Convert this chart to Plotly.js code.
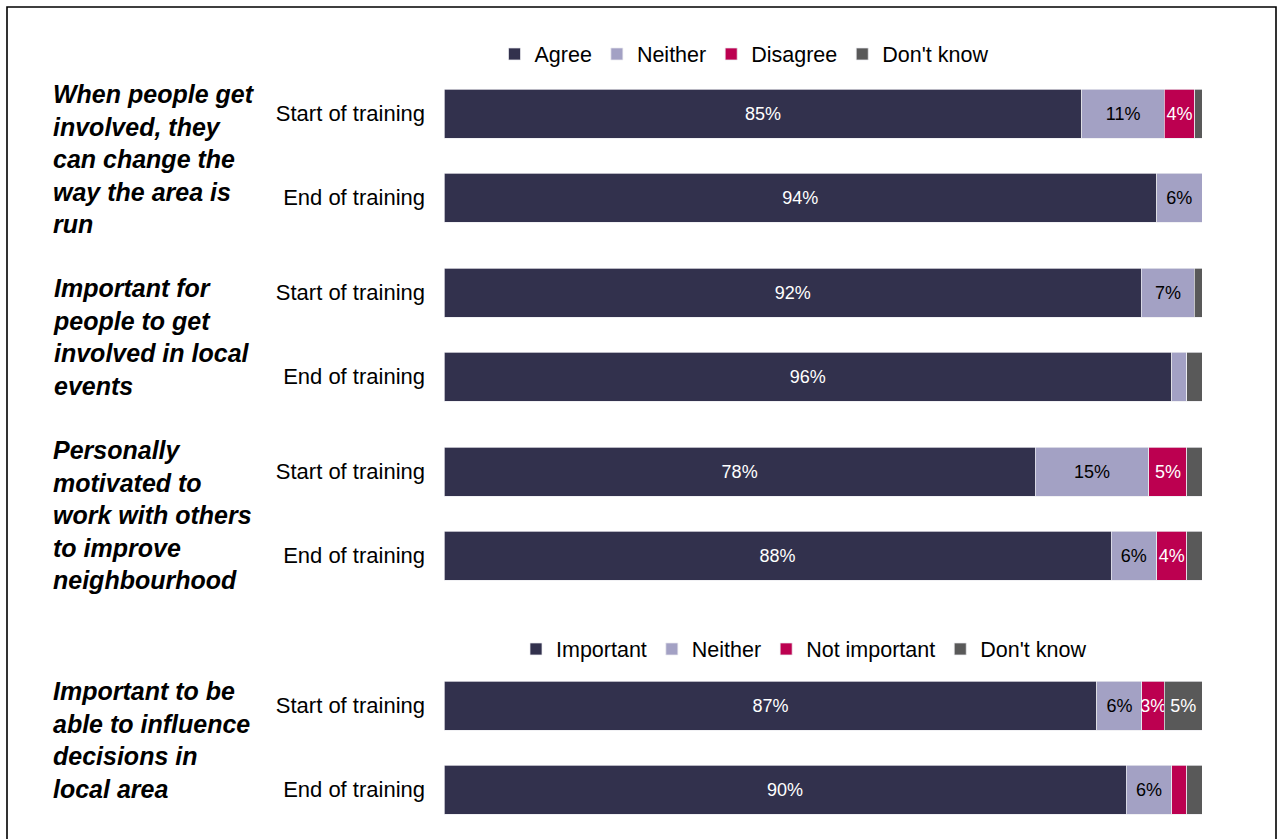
<!DOCTYPE html>
<html>
<head>
<meta charset="utf-8">
<script src="https://cdn.plot.ly/plotly-3.0.1.min.js"></script>
<style>
html,body{margin:0;padding:0;background:#fff;}
#chart{width:1278px;height:839px;}
</style>
</head>
<body>
<div id="chart"></div>
<script>
// ---- data ----
const questions = [
  "When people get<br>involved, they<br>can change the<br>way the area is<br>run",
  "Important for<br>people to get<br>involved in local<br>events",
  "Personally<br>motivated to<br>work with others<br>to improve<br>neighbourhood",
  "Important to be<br>able to influence<br>decisions in<br>local area"
];
const rowLabels = ["Start of training", "End of training"];
const seriesNamesAgree = ["Agree", "Neither", "Disagree", "Don't know"];
const seriesNamesImportant = ["Important", "Neither", "Not important", "Don't know"];
// 8 rows: Q1 start, Q1 end, Q2 start, Q2 end, Q3 start, Q3 end, Q4 start, Q4 end
const positive = [85, 94, 92, 96, 78, 88, 87, 90];
const neither  = [11,  6,  7,  2, 15,  6,  6,  6];
const negative = [ 4,  0,  0,  0,  5,  4,  3,  2];
const dontKnow = [ 1,  0,  1,  2,  2,  2,  5,  2];

// ---- styling ----
const FONT = "Liberation Sans, Arial, sans-serif";
const barColors = ["#32314d", "#a3a1c4", "#bc0050", "#595959"];
const textColors = ["#ffffff", "#000000", "#ffffff", "#ffffff"];
const W = 1278, H = 839, L = 444, R = 76;
const plotW = W - L - R;
// pixel rows (top, bottom) of each question's panel
const panelsPx = [[71.5, 239.5], [250.5, 418.5], [429.5, 597.5], [663.5, 831.5]];
const questionCenterPx = [159, 337.5, 514.5, 740];
const px2y = p => (H - p) / H;
const px2x = p => (p - L) / plotW;

const allSeries = [positive, neither, negative, dontKnow];
const traces = [];
const legendBase = {
  orientation: "h", traceorder: "normal", xanchor: "center", yanchor: "middle",
  itemwidth: 30, tracegroupgap: 0,
  font: {family: FONT, size: 21.5, color: "#000"}, itemclick: false, itemdoubleclick: false
};
const layout = {
  width: W, height: H,
  margin: {l: L, r: R, t: 0, b: 0, pad: 0},
  paper_bgcolor: "#ffffff", plot_bgcolor: "#ffffff",
  barmode: "stack", barnorm: "percent", bargap: 0.4167,
  font: {family: FONT, color: "#000000"},
  showlegend: true,
  legend: Object.assign({}, legendBase, {x: px2x(744), y: px2y(54)}),
  legend2: Object.assign({}, legendBase, {x: px2x(804), y: px2y(649)}),
  annotations: [],
  shapes: [{
    type: "rect", xref: "paper", yref: "paper",
    x0: px2x(7), x1: px2x(1276), y0: px2y(845), y1: px2y(7),
    line: {color: "#000000", width: 1.6}, fillcolor: "rgba(0,0,0,0)", layer: "above"
  }]
};

questions.forEach((q, qi) => {
  const sfx = qi === 0 ? "" : String(qi + 1);
  const names = qi === 3 ? seriesNamesImportant : seriesNamesAgree;
  allSeries.forEach((series, si) => {
    const vals = series.slice(qi * 2, qi * 2 + 2);
    traces.push({
      type: "bar", orientation: "h",
      name: names[si],
      y: rowLabels, x: vals,
      xaxis: "x" + sfx, yaxis: "y" + sfx,
      marker: {color: barColors[si], line: {color: "rgba(235,235,240,0.9)", width: 0.8}},
      text: vals.map(v => v >= 3 ? v + "%" : ""),
      texttemplate: "%{text}",
      textposition: "inside", insidetextanchor: "middle", textangle: 0,
      constraintext: "none",
      insidetextfont: {family: FONT, size: 18, color: textColors[si]},
      hoverinfo: "name+x",
      showlegend: qi === 0 || qi === 3,
      legend: qi === 3 ? "legend2" : "legend"
    });
  });
  const dom = [px2y(panelsPx[qi][1]), px2y(panelsPx[qi][0])];
  layout["xaxis" + sfx] = {
    domain: [0, 1], range: [0, 100], anchor: "y" + sfx,
    showgrid: false, zeroline: false, showticklabels: false, showline: false, fixedrange: true
  };
  layout["yaxis" + sfx] = {
    domain: dom, anchor: "x" + sfx, type: "category",
    autorange: "reversed", showgrid: false, zeroline: false, showline: false,
    ticks: "", ticklabelstandoff: 18,
    tickfont: {family: FONT, size: 22, color: "#000"}, fixedrange: true
  };
  layout.annotations.push({
    xref: "paper", yref: "paper",
    x: px2x(51), y: px2y(questionCenterPx[qi]),
    xanchor: "left", yanchor: "middle", align: "left",
    text: q, showarrow: false,
    font: {family: FONT, size: 25, color: "#000", weight: "bold", style: "italic"}
  });
});

Plotly.newPlot("chart", traces, layout, {displayModeBar: false, responsive: false});
</script>
</body>
</html>
